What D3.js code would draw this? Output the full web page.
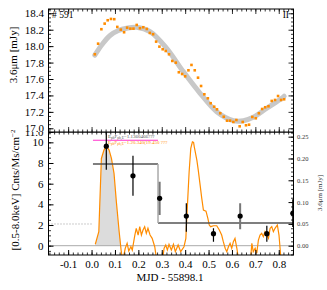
<!DOCTYPE html>
<html>
<head>
<meta charset="utf-8">
<script src="https://cdn.jsdelivr.net/npm/d3@7"></script>
<style>
  body { margin: 0; background: #fff; }
  svg { display: block; font-family: "Liberation Serif", "DejaVu Serif", serif; }
</style>
</head>
<body>
<svg id="chart" width="327" height="290"></svg>
<script>
// ---- values ----
// top panel: 3.6um light curve
const irTime = [0.014,0.028,0.042,0.056,0.069,0.083,0.097,0.110,0.125,0.139,
  0.152,0.166,0.179,0.193,0.207,0.221,0.236,0.249,0.263,0.276,
  0.290,0.304,0.317,0.331,0.345,0.360,0.373,0.387,0.400,0.414,
  0.427,0.441,0.455,0.468,0.482,0.497,0.509,0.524,0.536,0.550,
  0.565,0.579,0.592,0.606,0.619,0.633,0.646,0.660,0.673,0.687,
  0.702,0.715,0.729,0.742,0.756,0.770,0.784,0.797,0.810,0.823]
const irFlux = [17.901,18.030,18.206,18.274,18.315,18.331,18.328,18.234,18.201,18.169,
  18.225,18.213,18.213,18.258,18.218,18.230,18.209,18.161,18.145,18.055,
  17.994,17.962,17.941,17.901,17.820,17.799,17.682,17.661,17.633,17.706,
  17.771,17.706,17.616,17.515,17.414,17.365,17.305,17.263,17.231,17.183,
  17.141,17.093,17.093,17.077,17.101,17.024,17.077,17.037,17.044,17.138,
  17.122,17.183,17.235,17.256,17.268,17.333,17.345,17.393,17.345,17.353]
// grey model curve
const fitTime = [0.014,0.045,0.079,0.115,0.150,0.193,0.250,0.321,0.392,0.464,0.535,0.606,0.649,0.691,0.749,0.813,0.823]
const fitFlux = [17.89,18.02,18.13,18.19,18.218,18.23,18.177,17.974,17.69,17.426,17.202,17.093,17.093,17.134,17.244,17.365,17.39]

// bottom panel: X-ray rate (orange line)
const xrayTime = [0.016,0.031,0.042,0.053,0.063,0.075,0.085,0.096,0.106,0.118,0.127,0.133,
  0.144,0.152,0.159,0.168,0.174,0.185,0.191,0.199,0.206,0.213,0.220,0.227,0.234,0.241,0.250,0.259,0.270,0.277,
  0.293,0.303,0.310,0.317,0.324,0.331,0.341,0.350,0.358,0.370,0.381,0.395,0.403,0.409,0.417,0.424,0.431,0.436,0.439,
  0.450,0.456,0.464,0.471,0.478,0.489,0.497,0.503,0.509,0.521,0.535,0.546,0.556,0.563,0.571,0.578,0.585,0.592,0.599,
  0.606,0.613,0.621,0.627,0.650,0.675,0.680,0.685,0.691,0.699,0.706,0.713,0.720,0.727,0.734,0.741,0.749,0.756,
  0.763,0.770,0.777,0.784,0.794,0.801,0.809]
const xrayRate = [0.14,1.35,8.44,9.25,9.63,9.25,8.44,7.0,4.25,1.35,-0.58,-1.5,
  -0.25,0.23,-0.51,-0.1,-0.42,1.03,1.68,1.03,1.84,1.03,1.52,1.84,1.2,1.68,1.03,0.71,-0.1,-1.2,
  -1.6,-1.4,-0.25,0.07,-0.42,0.14,-0.42,0.14,-0.58,0.07,-0.58,-0.1,0.71,3.61,7.15,9.41,10.05,9.99,9.57,
  8.28,7.31,5.86,4.58,3.45,3.35,2.65,2.0,1.84,1.93,1.93,1.52,1.03,0.39,-0.25,-0.58,-0.1,0.23,-0.25,
  0.39,0.71,-0.25,-1.2,-1.6,-1.5,-1.2,0.23,-0.58,-0.25,-0.73,0.55,1.03,1.2,0.87,1.35,1.03,0.71,
  1.68,1.84,1.35,1.68,2.0,1.03,-1.2]
const flareEnd = 10   // last index of the shaded flare

// binned points with error bars
const binTime = [0.063,0.177,0.291,0.405,0.521,0.635,0.749,0.860]
const binRate = [9.63,6.76,4.58,2.87,1.16,2.87,1.16,3.13]
const binLo = [7.34,4.83,2.97,1.35,0.39,1.58,0.39,1.8]
const binHi = [11.9,8.70,6.18,4.1,1.68,4.1,1.93,4.5]
const binGrey = [false,false,true,false,false,true,false,false]

// Bayesian blocks
const blockEdges = [0.006,0.284,0.87]
const blockRates = [7.9,2.2]
const quiescent = 2.1
const magentaLevel = 10.2

// ticks
const xTicks = [-0.1,0,0.1,0.2,0.3,0.4,0.5,0.6,0.7,0.8]
const xTickLabels = ["-0.1","0.0","0.1","0.2","0.3","0.4","0.5","0.6","0.7","0.8"]
const irTicks = [17.0,17.2,17.4,17.6,17.8,18.0,18.2,18.4]
const xrayTicks = [0,2,4,6,8,10,11]
const xrayTickLabels = ["0","2","4","6","8","10","11.0"]
const mjyTicks = [0,0.05,0.10,0.15,0.20,0.25]

const svg = d3.select('#chart')
const left = 48.5, right = 293.5
const topY0 = 9, split = 132, botY1 = 255

const x = d3.scaleLinear().domain([-0.184, 0.863]).range([left, right])
const yIr = d3.scaleLinear().domain([16.955, 18.452]).range([split, topY0])
const yX = d3.scaleLinear().domain([-0.9, 11.0]).range([botY1, split])
const yMjy = d3.scaleLinear().domain([-0.0213, 0.2607]).range([botY1, split])

// inward tick marks without labels
function inTicks(g, axis, values, len, tr) {
  g.append("g").attr("transform", tr)
    .call(axis.tickValues(values).tickSize(-len).tickFormat(""))
    .call(s => s.select(".domain").remove())
    .selectAll("line").attr("stroke", "#000").attr("stroke-width", 0.8)
}
const xMinor = d3.range(-0.18, 0.87, 0.02)

svg.append("defs").append("clipPath").attr("id", "clipB")
  .append("rect").attr("x", left).attr("y", split).attr("width", right - left).attr("height", botY1 - split)
svg.append("defs").append("clipPath").attr("id", "clipT")
  .append("rect").attr("x", left).attr("y", topY0).attr("width", right - left).attr("height", split - topY0)

// ================= bottom panel =================
const gb = svg.append("g").attr("clip-path", "url(#clipB)")

// shaded flare
const flareIdx = d3.range(0, flareEnd + 1)
gb.append("path")
  .datum(flareIdx)
  .attr("fill", "#dcdcdc")
  .attr("d", d3.area().x(i => x(xrayTime[i])).y0(yX(0)).y1(i => yX(Math.max(0, xrayRate[i]))))

// zero line and quiescent level
gb.append("line").attr("x1", left).attr("x2", right).attr("y1", yX(0)).attr("y2", yX(0))
  .attr("stroke", "#aaa").attr("stroke-width", 1)
gb.append("line").attr("x1", left).attr("x2", x(0)).attr("y1", yX(quiescent)).attr("y2", yX(quiescent))
  .attr("stroke", "#999").attr("stroke-width", 1).attr("stroke-dasharray", "1,2")

// orange rate curve
gb.append("path")
  .datum(xrayTime.map((t, i) => [t, xrayRate[i]]))
  .attr("fill", "none").attr("stroke", "#ff8c00").attr("stroke-width", 1.2)
  .attr("d", d3.line().x(d => x(d[0])).y(d => yX(d[1])))

// blocks
blockRates.forEach((r, i) => {
  gb.append("line").attr("x1", x(blockEdges[i])).attr("x2", x(blockEdges[i + 1]))
    .attr("y1", yX(r)).attr("y2", yX(r)).attr("stroke", "#555").attr("stroke-width", 1.6)
})
gb.append("line").attr("x1", x(blockEdges[1])).attr("x2", x(blockEdges[1]))
  .attr("y1", yX(blockRates[0])).attr("y2", yX(blockRates[1])).attr("stroke", "#aaa").attr("stroke-width", 1.5)

// magenta level and tiny annotations
gb.append("line").attr("x1", x(blockEdges[0])).attr("x2", x(blockEdges[1]))
  .attr("y1", yX(magentaLevel)).attr("y2", yX(magentaLevel)).attr("stroke", "#ff33cc").attr("stroke-width", 1.2)

function note(yPos, color, val) {
  const t = svg.append("text").attr("x", 108).attr("y", yPos).attr("font-size", 5).attr("fill", color)
  t.append("tspan").text("E")
  t.append("tspan").attr("font-size", 3.5).attr("dy", 1).text("ph")
  t.append("tspan").attr("dy", -1).text("F")
  t.append("tspan").attr("font-size", 3.5).attr("dy", 1).text("ph,E")
  t.append("tspan").attr("dy", -1).text(val)
}

// error bars and points
binTime.forEach((t, i) => {
  gb.append("line").attr("x1", x(t)).attr("x2", x(t)).attr("y1", yX(binLo[i])).attr("y2", yX(binHi[i]))
    .attr("stroke", binGrey[i] ? "#777" : "#000").attr("stroke-width", binGrey[i] ? 2 : 1.2)
})
gb.selectAll("circle.bin").data(binTime).join("circle")
  .attr("cx", d => x(d)).attr("cy", (d, i) => yX(binRate[i])).attr("r", 2.6).attr("fill", "#000")

// frame + ticks for bottom panel
inTicks(svg, d3.axisBottom(x), xMinor, 2.5, `translate(0,${botY1})`)
inTicks(svg, d3.axisTop(x), xMinor, 2.5, `translate(0,${split})`)
inTicks(svg, d3.axisLeft(yX), d3.range(-0.5, 11.01, 0.5), 2.5, `translate(${left},0)`)
inTicks(svg, d3.axisRight(yMjy), d3.range(-0.02, 0.261, 0.01), 2.5, `translate(${right},0)`)

const xb = svg.append("g").attr("transform", `translate(0,${botY1})`)
  .call(d3.axisBottom(x).tickValues(xTicks).tickSize(-5).tickPadding(5.2).tickFormat((d, i) => xTickLabels[i]))
xb.select(".domain").remove()
xb.selectAll("text").attr("font-size", 11).attr("font-family", "Liberation Serif").attr("fill", "#000")

const yb = svg.append("g").attr("transform", `translate(${left},0)`)
  .call(d3.axisLeft(yX).tickValues(xrayTicks).tickSize(-5).tickPadding(5).tickFormat((d, i) => xrayTickLabels[i]))
yb.select(".domain").remove()
yb.selectAll("text").attr("font-size", 11).attr("font-family", "Liberation Serif").attr("fill", "#000")

const yr = svg.append("g").attr("transform", `translate(${right},0)`)
  .call(d3.axisRight(yMjy).tickValues(mjyTicks).tickSize(-5).tickPadding(3.5).tickFormat(d3.format(".2f")))
yr.select(".domain").remove()
yr.selectAll("text").attr("font-size", 6.5).attr("font-family", "Liberation Serif").attr("fill", "#333")

svg.append("rect").attr("x", left).attr("y", split).attr("width", right - left).attr("height", botY1 - split)
  .attr("fill", "none").attr("stroke", "#000").attr("stroke-width", 1)

// ================= top panel =================
svg.append("rect").attr("x", 0).attr("y", 0).attr("width", 296).attr("height", split).attr("fill", "#fff")

const gt = svg.append("g").attr("clip-path", "url(#clipT)")
gt.append("path")
  .datum(fitTime.map((t, i) => [t, fitFlux[i]]))
  .attr("fill", "none").attr("stroke", "#c8c8c8").attr("stroke-width", 5).attr("stroke-linecap", "round")
  .attr("d", d3.line().x(d => x(d[0])).y(d => yIr(d[1])).curve(d3.curveCatmullRom))

gt.selectAll("rect.pt").data(irTime).join("rect")
  .attr("x", d => x(d) - 1.3).attr("y", (d, i) => yIr(irFlux[i]) - 1.3)
  .attr("width", 2.6).attr("height", 2.6).attr("fill", "#ff8c00")

inTicks(svg, d3.axisTop(x), xMinor, 2.5, `translate(0,${topY0})`)
inTicks(svg, d3.axisBottom(x), xMinor, 2.5, `translate(0,${split})`)
inTicks(svg, d3.axisTop(x), xTicks, 5, `translate(0,${topY0})`)
inTicks(svg, d3.axisBottom(x), xTicks, 5, `translate(0,${split})`)
inTicks(svg, d3.axisLeft(yIr), d3.range(16.95, 18.451, 0.05), 2.5, `translate(${left},0)`)
inTicks(svg, d3.axisRight(yIr), d3.range(16.95, 18.451, 0.05), 2.5, `translate(${right},0)`)
inTicks(svg, d3.axisRight(yIr), irTicks, 5, `translate(${right},0)`)

const yt = svg.append("g").attr("transform", `translate(${left},0)`)
  .call(d3.axisLeft(yIr).tickValues(irTicks).tickSize(-5).tickPadding(4.5).tickFormat(d3.format(".1f")))
yt.select(".domain").remove()
yt.selectAll("text").attr("font-size", 11).attr("font-family", "Liberation Serif").attr("fill", "#000")

svg.append("rect").attr("x", left).attr("y", topY0).attr("width", right - left).attr("height", split - topY0)
  .attr("fill", "none").attr("stroke", "#000").attr("stroke-width", 1)

// annotations over the magenta line
note(137.5, "#555", "=1.1360466???")
note(144, "#ff8c00", "=1.20.340(19.450 ???")

svg.append("text").attr("x", 52).attr("y", 18).attr("font-size", 9.5).text("# 591")
svg.append("text").attr("x", 289).attr("y", 18).attr("font-size", 9.5).attr("text-anchor", "end").text("II")

// axis titles
svg.append("text").attr("transform", "translate(17,55) rotate(-90)").attr("text-anchor", "middle")
  .attr("font-size", 11).text("3.6μm [mJy]")
const yl = svg.append("text").attr("transform", "translate(19,190) rotate(-90)").attr("text-anchor", "middle")
  .attr("font-size", 11)
yl.append("tspan").text("[0.5-8.0keV] Cnts/Ms/cm")
yl.append("tspan").attr("font-size", 7).attr("dy", -4).text("−2")
svg.append("text").attr("transform", "translate(322,193) rotate(-90)").attr("text-anchor", "middle")
  .attr("font-size", 7).attr("fill", "#333").text("3.6μm [mJy]")
svg.append("text").attr("x", 170).attr("y", 281).attr("text-anchor", "middle")
  .attr("font-size", 11).text("MJD - 55898.1")
</script>
</body>
</html>
